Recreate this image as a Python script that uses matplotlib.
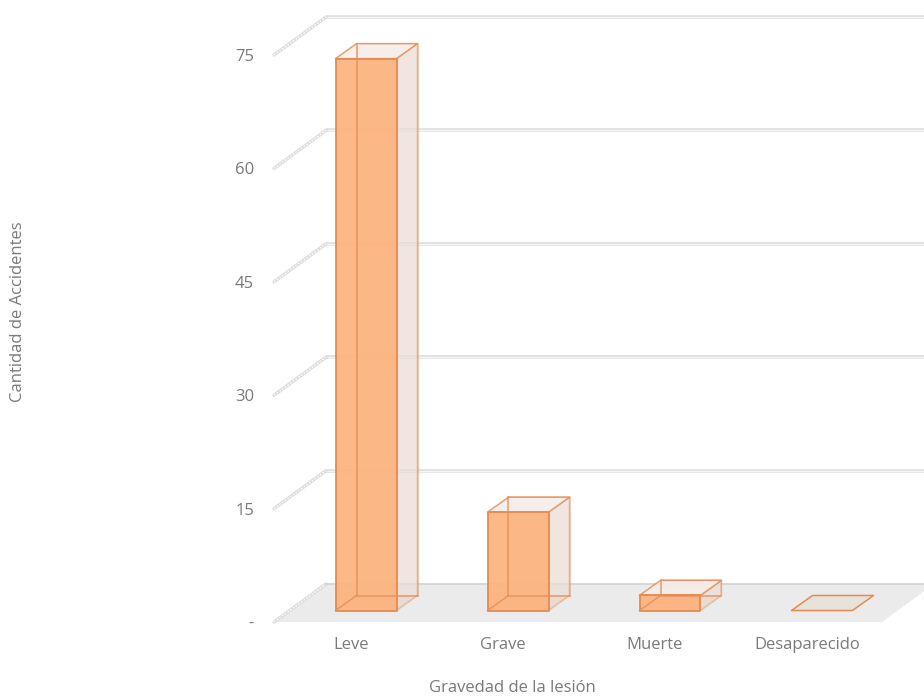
import matplotlib
matplotlib.use("Agg")
import matplotlib.pyplot as plt
from matplotlib.patches import Polygon

categories = ["Leve", "Grave", "Muerte", "Desaparecido"]
values = [73, 13, 2, 0]
y_ticks = [0, 15, 30, 45, 60, 75]
y_tick_labels = ["-", "15", "30", "45", "60", "75"]
x_title = "Gravedad de la lesión"
y_title = "Cantidad de Accidentes"

W, H = 924, 698
SX, SY = 152.0, 7.56      # pixels per category / per unit
X0, Y0 = 350.0, 622.0     # pixel position of category 0 / value 0
FLOOR_DX, FLOOR_DY = 52 / SX, 38 / SY
BAR_OX, BAR_OY = 16 / SX, 11.5 / SY
BAR_DX, BAR_DY = 21 / SX, 15 / SY
BAR_W = 61 / SX

EDGE = "#E58A50"
FRONT = "#FDB27E"

plt.rcParams["font.family"] = ["Open Sans", "DejaVu Sans"]
fig = plt.figure(figsize=(W / 100, H / 100), dpi=100, facecolor="white")
ax = fig.add_axes([0, 0, 1, 1])
ax.set_xlim(-X0 / SX, (W - X0) / SX)
ax.set_ylim(-(H - Y0) / SY, Y0 / SY)
ax.axis("off")

x_left = -0.5
x_right = len(categories) - 0.5
x_max = ax.get_xlim()[1]

# floor
ax.add_patch(Polygon([(x_left, 0), (x_right, 0),
                      (x_right + FLOOR_DX, FLOOR_DY), (x_left + FLOOR_DX, FLOOR_DY)],
                     closed=True, fc="#EBEBEB", ec="none", zorder=1))
ax.plot([x_left + FLOOR_DX, x_max], [FLOOR_DY, FLOOR_DY], color="#D2D2D2", lw=1.2, zorder=1.5)

# back wall grid and left wall diagonals
for v in y_ticks:
    bx = x_left + FLOOR_DX
    by = v + FLOOR_DY
    if v > 0:
        ax.plot([bx, x_max], [by, by], color="#DEDEDE", lw=2.6, zorder=1,
                solid_capstyle="butt")
        ax.plot([bx, x_max], [by, by], color="#F6F6F6", lw=1.0, zorder=1.1,
                solid_capstyle="butt")
    ax.plot([x_left, bx], [v, by], color="#DCDCDC", lw=2.4, zorder=1.2,
            solid_capstyle="round")
    ax.plot([x_left, bx], [v, by], color="white", lw=1.0, ls=(0, (1.2, 1.2)), zorder=1.3)


def bar3d(i, val):
    l = i - BAR_W / 2 + BAR_OX
    r = l + BAR_W
    b = BAR_OY
    t = b + val
    dx, dy = BAR_DX, BAR_DY
    kw = dict(closed=True, joinstyle="round")
    if val == 0:
        ax.add_patch(Polygon([(l, b), (r, b), (r + dx, b + dy), (l + dx, b + dy)],
                             fc="#E8E2DD", ec=EDGE, lw=1.1, zorder=3, **kw))
        return
    # back face
    ax.add_patch(Polygon([(l + dx, b + dy), (r + dx, b + dy), (r + dx, t + dy), (l + dx, t + dy)],
                         fc="#F2E6DF", ec=EDGE, lw=1.1, alpha=0.5, zorder=2, **kw))
    # bottom face
    ax.add_patch(Polygon([(l, b), (r, b), (r + dx, b + dy), (l + dx, b + dy)],
                         fc="#E8DDD5", ec="none", alpha=0.9, zorder=2.1, **kw))
    # right side
    ax.add_patch(Polygon([(r, b), (r + dx, b + dy), (r + dx, t + dy), (r, t)],
                         fc="#E8D8CE", ec=EDGE, lw=1.1, alpha=0.45, zorder=2.3, **kw))
    # top
    ax.add_patch(Polygon([(l, t), (r, t), (r + dx, t + dy), (l + dx, t + dy)],
                         fc="#F6EEE9", ec=EDGE, lw=1.1, alpha=0.8, zorder=2.4, **kw))
    # front
    ax.add_patch(Polygon([(l, b), (r, b), (r, t), (l, t)],
                         fc=FRONT, ec="none", alpha=0.92, zorder=3, **kw))
    # hidden edges showing through the front face
    ax.plot([l + dx, l + dx, r + dx], [t + dy, b + dy, b + dy], color="#E58F58", lw=1.1,
            alpha=0.85, zorder=3.05)
    ax.plot([l, l + dx], [b, b + dy], color="#E58F58", lw=1.1, alpha=0.85, zorder=3.05)
    ax.add_patch(Polygon([(l, b), (r, b), (r, t), (l, t)],
                         fc="none", ec=EDGE, lw=1.3, zorder=3.1, **kw))


for i, val in enumerate(values):
    bar3d(i, val)

GREY = "#7A7A7A"
FS = 12.0
for i, c in enumerate(categories):
    ax.text(i + 0.005, -23 / SY, c, ha="center", va="center", fontsize=FS, color=GREY)
for v, lab in zip(y_ticks, y_tick_labels):
    ax.text(x_left - 20 / SX, v - 2 / SY, lab, ha="right", va="center", fontsize=FS, color=GREY)

ax.text((512 - X0) / SX, (Y0 - 688) / SY, x_title, ha="center", va="center", fontsize=FS, color=GREY)
ax.text((18 - X0) / SX, (Y0 - 312) / SY, y_title, ha="center", va="center", rotation=90,
        fontsize=FS, color=GREY)

fig.savefig("out.png", dpi=100, facecolor="white")
